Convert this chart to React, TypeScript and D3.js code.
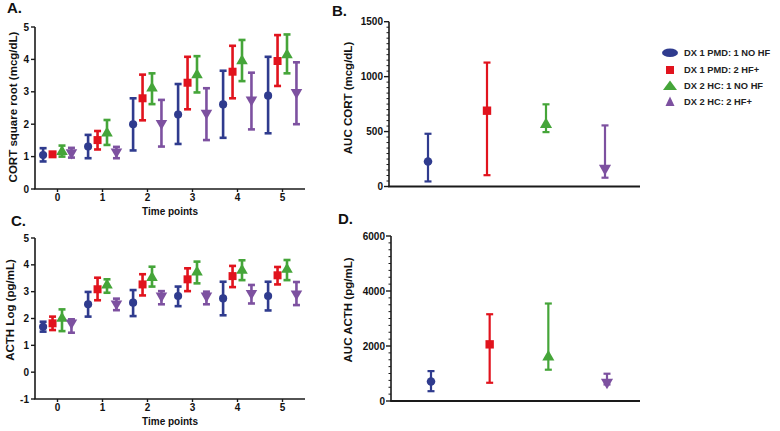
import React from "react";
import * as d3 from "d3";

const timePoints = [0, 1, 2, 3, 4, 5];
const groups = ["DX 1 PMD: 1 NO HF", "DX 1 PMD: 2 HF+", "DX 2 HC: 1 NO HF", "DX 2 HC: 2 HF+"];
const groupColors = ["#2F3B8E", "#E1131D", "#45A539", "#7D51A0"];
const groupShapes = ["circle", "square", "triangleUp", "triangleDown"];
const groupOffsets = [-0.32, -0.11, 0.1, 0.31];

const cortMean = [
  [1.05, 1.31, 2.0, 2.3, 2.61, 2.88],
  [1.07, 1.51, 2.8, 3.28, 3.62, 3.95],
  [1.15, 1.72, 3.11, 3.52, 3.95, 4.14],
  [1.12, 1.15, 2.03, 2.34, 2.75, 2.98],
];
const cortLow = [
  [0.85, 0.95, 1.19, 1.39, 1.58, 1.72],
  [1.02, 1.22, 2.12, 2.46, 2.8, 3.18],
  [1.0, 1.36, 2.62, 2.98, 3.33, 3.57],
  [0.97, 0.95, 1.31, 1.51, 1.84, 2.0],
];
const cortHigh = [
  [1.26, 1.67, 2.8, 3.24, 3.65, 4.08],
  [1.12, 1.79, 3.53, 4.08, 4.42, 4.75],
  [1.34, 2.13, 3.57, 4.1, 4.6, 4.77],
  [1.27, 1.3, 2.75, 3.11, 3.59, 3.91],
];

const acthMean = [
  [1.69, 2.53, 2.59, 2.84, 2.75, 2.84],
  [1.82, 3.09, 3.27, 3.46, 3.58, 3.61],
  [2.0, 3.24, 3.52, 3.73, 3.79, 3.83],
  [1.84, 2.55, 2.84, 2.84, 2.94, 2.92],
];
const acthLow = [
  [1.51, 2.07, 2.09, 2.46, 2.12, 2.3],
  [1.57, 2.68, 2.86, 3.02, 3.17, 3.27],
  [1.53, 2.96, 3.19, 3.31, 3.43, 3.43],
  [1.47, 2.31, 2.53, 2.53, 2.56, 2.5],
];
const acthHigh = [
  [1.88, 2.99, 3.06, 3.19, 3.37, 3.37],
  [2.07, 3.52, 3.65, 3.87, 3.96, 3.92],
  [2.34, 3.46, 3.93, 4.12, 4.17, 4.18],
  [1.97, 2.74, 3.02, 3.0, 3.25, 3.36],
];

const aucCortMean = [228, 690, 565, 165];
const aucCortLow = [46, 103, 495, 80];
const aucCortHigh = [480, 1128, 748, 556];

const aucActhMean = [711, 2060, 1598, 686];
const aucActhLow = [357, 663, 1138, 600];
const aucActhHigh = [1087, 3155, 3545, 992];

const cortTicks = [0, 1, 2, 3, 4, 5];
const acthTicks = [-1, 0, 1, 2, 3, 4, 5];
const aucCortTicks = [0, 500, 1000, 1500];
const aucActhTicks = [0, 2000, 4000, 6000];

const FONT = "'Liberation Sans', Arial, Helvetica, sans-serif";
const AXIS = "#1a1a1a";

function markerPath(shape: string, size: number) {
  const t =
    shape === "circle" ? d3.symbolCircle :
    shape === "square" ? d3.symbolSquare : d3.symbolTriangle;
  return d3.symbol().type(t).size(size)() as string;
}

function Marker({ shape, x, y, color, scale = 1 }: any) {
  const sizes: any = { circle: 52, square: 64, triangleUp: 58, triangleDown: 58 };
  const rot = shape === "triangleDown" ? 180 : 0;
  return (
    <path
      d={markerPath(shape, sizes[shape] * scale)}
      transform={`translate(${x},${y}) rotate(${rot})`}
      fill={color}
    />
  );
}

function ErrBar({ x, y1, y2, color, sw, cap }: any) {
  return (
    <g stroke={color} strokeWidth={sw} fill="none">
      <line x1={x} x2={x} y1={y1} y2={y2} />
      <line x1={x - cap / 2} x2={x + cap / 2} y1={y1} y2={y1} />
      <line x1={x - cap / 2} x2={x + cap / 2} y1={y2} y2={y2} />
    </g>
  );
}

function TimePanel({ yDomain, yRange, ticks, means, lows, highs, title, titleCenter, letter, letterPos }: any) {
  const x = d3.scaleLinear().domain([-0.5, 5.5]).range([35, 305]);
  const y = d3.scaleLinear().domain(yDomain).range(yRange);
  const y0 = y(yDomain[0]);
  return (
    <g fontFamily={FONT}>
      <text x={letterPos[0]} y={letterPos[1]} fontSize={15} fontWeight="bold" fill="#111">{letter}</text>
      {/* axes */}
      <line x1={35} x2={35} y1={y0} y2={y(yDomain[1])} stroke={AXIS} strokeWidth={1.6} />
      <line x1={34.2} x2={305} y1={y0} y2={y0} stroke={AXIS} strokeWidth={1.6} />
      {ticks.map((t: number) => (
        <g key={"yt" + t}>
          <line x1={31} x2={35} y1={y(t)} y2={y(t)} stroke={AXIS} strokeWidth={1.4} />
          <text x={29} y={y(t)} dy="0.35em" textAnchor="end" fontSize={10} fontWeight="bold" fill="#111">{t}</text>
        </g>
      ))}
      {timePoints.map((t) => (
        <g key={"xt" + t}>
          <line x1={x(t)} x2={x(t)} y1={y0} y2={y0 + 3} stroke={AXIS} strokeWidth={1.4} />
          <text x={x(t)} y={y0 + 12} textAnchor="middle" fontSize={10} fontWeight="bold" fill="#111">{t}</text>
        </g>
      ))}
      <text x={170} y={y0 + 26} textAnchor="middle" fontSize={10} fontWeight="bold" fill="#111">Time points</text>
      <text transform={`translate(${titleCenter[0]},${titleCenter[1]}) rotate(-90)`} textAnchor="middle" fontSize={11.5} fontWeight="bold" fill="#111">{title}</text>
      {/* data */}
      {groups.map((g, gi) => (
        <g key={g}>
          {timePoints.map((t, ti) => {
            const cx = x(t + groupOffsets[gi]);
            return (
              <g key={ti}>
                <ErrBar x={cx} y1={y(highs[gi][ti])} y2={y(lows[gi][ti])} color={groupColors[gi]} sw={2.6} cap={7} />
                <Marker shape={groupShapes[gi]} x={cx} y={y(means[gi][ti])} color={groupColors[gi]} />
              </g>
            );
          })}
        </g>
      ))}
    </g>
  );
}

function AucPanel({ yDomain, yRange, ticks, minorStep, means, lows, highs, title, titleCenter, letter, letterPos, axisX, xRange, axisEnd }: any) {
  const x = d3.scaleLinear().domain([0, 3]).range(xRange);
  const y = d3.scaleLinear().domain(yDomain).range(yRange);
  const y0 = y(yDomain[0]);
  const minors = d3.range(yDomain[0], yDomain[1] + 0.001, minorStep).filter((v) => !ticks.includes(v));
  return (
    <g fontFamily={FONT}>
      <text x={letterPos[0]} y={letterPos[1]} fontSize={15} fontWeight="bold" fill="#111">{letter}</text>
      <line x1={axisX} x2={axisX} y1={y0} y2={y(yDomain[1])} stroke={AXIS} strokeWidth={1.6} />
      <line x1={axisX - 0.8} x2={axisEnd} y1={y0} y2={y0} stroke={AXIS} strokeWidth={1.8} />
      {minors.map((v: number) => (
        <line key={"m" + v} x1={axisX - 2.5} x2={axisX} y1={y(v)} y2={y(v)} stroke={AXIS} strokeWidth={1} />
      ))}
      {ticks.map((t: number) => (
        <g key={"yt" + t}>
          <line x1={axisX - 5} x2={axisX} y1={y(t)} y2={y(t)} stroke={AXIS} strokeWidth={1.4} />
          <text x={axisX - 6} y={y(t)} dy="0.35em" textAnchor="end" fontSize={10} fontWeight="bold" fill="#111">{t}</text>
        </g>
      ))}
      <text transform={`translate(${titleCenter[0]},${titleCenter[1]}) rotate(-90)`} textAnchor="middle" fontSize={11.5} fontWeight="bold" fill="#111">{title}</text>
      {groups.map((g, gi) => {
        const cx = x(gi);
        return (
          <g key={g}>
            <ErrBar x={cx} y1={y(highs[gi])} y2={y(lows[gi])} color={groupColors[gi]} sw={2.2} cap={7} />
            <Marker shape={groupShapes[gi]} x={cx} y={y(means[gi])} color={groupColors[gi]} scale={1.1} />
          </g>
        );
      })}
    </g>
  );
}

function Legend() {
  const ys = [52.7, 70, 85.5, 101.5];
  return (
    <g fontFamily={FONT}>
      {groups.map((g, gi) => {
        let mark;
        if (gi === 0) mark = <ellipse cx={670} cy={ys[gi]} rx={8} ry={4.3} fill={groupColors[gi]} />;
        else if (gi === 1) mark = <rect x={666} y={ys[gi] - 4} width={8} height={8} fill={groupColors[gi]} />;
        else if (gi === 2) mark = <path d={`M${663},${ys[gi] + 4.5}L${677},${ys[gi] + 4.5}L${670},${ys[gi] - 5}Z`} fill={groupColors[gi]} />;
        else mark = <path d={`M${665.5},${ys[gi] + 4.5}L${674.5},${ys[gi] + 4.5}L${670},${ys[gi] - 5}Z`} fill={groupColors[gi]} />;
        return (
          <g key={g}>
            {mark}
            <text x={684} y={ys[gi]} dy="0.35em" fontSize={9.3} fontWeight="bold" fill="#222">{g}</text>
          </g>
        );
      })}
    </g>
  );
}

export default function App() {
  return (
    <svg width={780} height={431} style={{ position: "absolute", left: 0, top: 0, background: "#fff" }}>
      <rect width={780} height={431} fill="#fff" />
      <TimePanel
        yDomain={[0, 5]} yRange={[189, 27]} ticks={cortTicks}
        means={cortMean} lows={cortLow} highs={cortHigh}
        title="CORT square root (mcg/dL)" titleCenter={[17, 107]}
        letter="A." letterPos={[7, 13]}
      />
      <TimePanel
        yDomain={[-1, 5]} yRange={[399, 238]} ticks={acthTicks}
        means={acthMean} lows={acthLow} highs={acthHigh}
        title="ACTH Log (pg/mL)" titleCenter={[14, 310]}
        letter="C." letterPos={[11, 226]}
      />
      <AucPanel
        yDomain={[0, 1500]} yRange={[186.5, 21.7]} ticks={aucCortTicks} minorStep={50}
        means={aucCortMean} lows={aucCortLow} highs={aucCortHigh}
        title="AUC CORT (mcg/dL)" titleCenter={[352, 98]}
        letter="B." letterPos={[332, 16]}
        axisX={389} xRange={[428, 605]} axisEnd={640}
      />
      <AucPanel
        yDomain={[0, 6000]} yRange={[401, 236]} ticks={aucActhTicks} minorStep={250}
        means={aucActhMean} lows={aucActhLow} highs={aucActhHigh}
        title="AUC ACTH (pg/mL)" titleCenter={[352, 310]}
        letter="D." letterPos={[338, 224]}
        axisX={391} xRange={[431, 607]} axisEnd={640}
      />
      <Legend />
    </svg>
  );
}
